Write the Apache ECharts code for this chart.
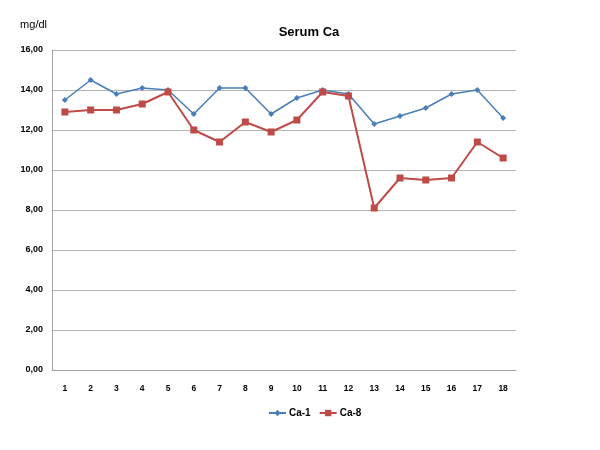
<!DOCTYPE html>
<html lang="en">
<head>
    <meta charset="UTF-8">
    <title>Serum Ca</title>
    <script src="https://cdn.jsdelivr.net/npm/echarts@6/dist/echarts.min.js"></script>
</head>
<body style="margin:0;background:#ffffff">
    <div id="chart" style="width:600px;height:450px"></div>
<script>
    var days = ['1','2','3','4','5','6','7','8','9','10','11','12','13','14','15','16','17','18'];
    var ca1 = [13.5, 14.5, 13.8, 14.1, 14.0, 12.8, 14.1, 14.1, 12.8, 13.6, 14.0, 13.8, 12.3, 12.7, 13.1, 13.8, 14.0, 12.6];
    var ca8 = [12.9, 13.0, 13.0, 13.3, 13.9, 12.0, 11.4, 12.4, 11.9, 12.5, 13.9, 13.7, 8.1, 9.6, 9.5, 9.6, 11.4, 10.6];

    var font = 'Liberation Sans';
    var option = {
        animation: false,
        title: {
            text: 'Serum Ca',
            left: 304,
            top: 21,
            textAlign: 'center',
            textStyle: {fontFamily: font, fontSize: 13, fontWeight: 'bold', color: '#000'}
        },
        legend: {
            data: ['Ca-1', 'Ca-8'],
            top: 403,
            left: 263,
            itemWidth: 17,
            itemHeight: 8,
            itemGap: 8,
            textStyle: {fontFamily: font, fontSize: 10, fontWeight: 'bold', color: '#000', padding: [0, 0, 0, -2]}
        },
        grid: {left: 52, right: 84, top: 50, bottom: 80},
        xAxis: {
            type: 'category',
            data: days,
            axisTick: {show: false},
            axisLine: {lineStyle: {color: '#a0a0a0'}},
            axisLabel: {fontFamily: font, fontSize: 8.5, fontWeight: 'bold', color: '#000', margin: 14}
        },
        yAxis: {
            type: 'value',
            name: 'mg/dl',
            nameLocation: 'end',
            nameGap: 20,
            nameTextStyle: {fontFamily: font, fontSize: 11, color: '#000', align: 'right', padding: [0, 5, 0, 0]},
            min: 0, max: 16, interval: 2,
            axisLine: {show: true, lineStyle: {color: '#a0a0a0'}},
            axisTick: {show: false},
            splitLine: {lineStyle: {color: '#b4b4b4'}},
            axisLabel: {
                fontFamily: font, fontSize: 9, fontWeight: 'bold', color: '#000', margin: 9,
                formatter: function (v) { return v.toFixed(2).replace('.', ','); }
            }
        },
        series: [
            {
                name: 'Ca-1',
                type: 'line',
                data: ca1,
                symbol: 'diamond',
                symbolSize: 6,
                lineStyle: {color: '#4a7ebb', width: 1.5},
                itemStyle: {color: '#4a7ebb'}
            },
            {
                name: 'Ca-8',
                type: 'line',
                data: ca8,
                symbol: 'rect',
                symbolSize: 7,
                lineStyle: {color: '#be4b48', width: 2},
                itemStyle: {color: '#be4b48'}
            }
        ]
    };
    echarts.init(document.getElementById('chart')).setOption(option);
</script>
</body>
</html>
